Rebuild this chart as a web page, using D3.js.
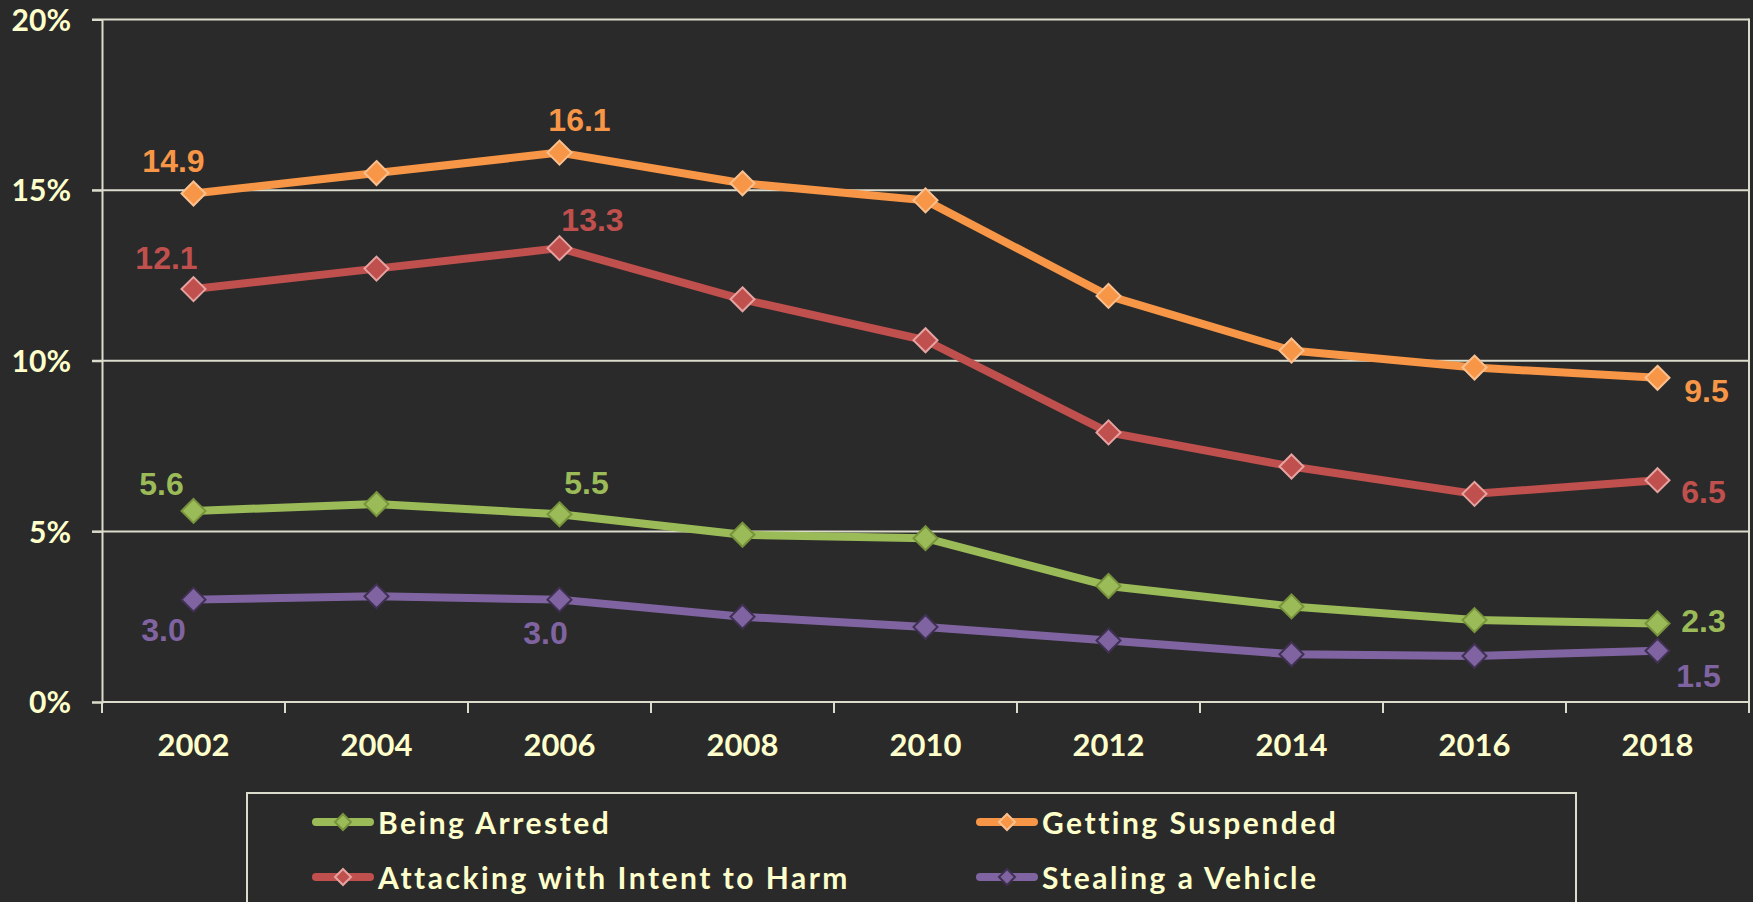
<!DOCTYPE html>
<html>
<head>
<meta charset="utf-8">
<script src="https://cdn.jsdelivr.net/npm/d3@7"></script>
<style>
  html, body { margin: 0; padding: 0; background: #2a2a2a; }
  svg { display: block; }
</style>
</head>
<body>
<svg id="chart" width="1753" height="902"></svg>
<script>
// ---------- data ----------
const years = ["2002", "2004", "2006", "2008", "2010", "2012", "2014", "2016", "2018"];
const beingArrested = [5.6, 5.8, 5.5, 4.9, 4.8, 3.4, 2.8, 2.4, 2.3];
const gettingSuspended = [14.9, 15.5, 16.1, 15.2, 14.7, 11.9, 10.3, 9.8, 9.5];
const attackingWithIntent = [12.1, 12.7, 13.3, 11.8, 10.6, 7.9, 6.9, 6.1, 6.5];
const stealingVehicle = [3.0, 3.1, 3.0, 2.5, 2.2, 1.8, 1.4, 1.35, 1.5];
const yTicks = [0, 5, 10, 15, 20];
const seriesNames = ["Being Arrested", "Getting Suspended", "Attacking with Intent to Harm", "Stealing a Vehicle"];
// indices of points that carry a value label
const labelledPoints = [0, 2, 8];

// ---------- styling / layout (not data) ----------
const styles = [
  { color: "#9BBB59", marker: "#77933C" },
  { color: "#F79646", marker: "#FAC090" },
  { color: "#C0504D", marker: "#E6A3A1" },
  { color: "#8064A2", marker: "#3F3151" }
];
// label offsets (dx, dy) per series for points 2002, 2006, 2018
const labelOffsets = [
  [[-32, -27], [27, -31], [46, -3]],
  [[-20, -33], [20, -33], [49, 13]],
  [[-27, -31], [33, -28], [46, 12]],
  [[-30, 30], [-14, 33], [41, 25]]
];

const seriesValues = [beingArrested, gettingSuspended, attackingWithIntent, stealingVehicle];

const svg = d3.select("#chart");
const plot = { left: 102, right: 1749, top: 19.5, bottom: 702 };
const gridColor = "#DCDCCC";
const textColor = "#FFFFCC";

const x = d3.scaleBand().domain(years).range([plot.left, plot.right]).padding(0);
const cx = d => x(d) + x.bandwidth() / 2;
const y = d3.scaleLinear().domain([0, 20]).range([plot.bottom, plot.top]);

// gridlines
svg.append("g").selectAll("line").data(yTicks.filter(t => t > 0)).join("line")
  .attr("x1", plot.left - 10).attr("x2", plot.right)
  .attr("y1", d => y(d)).attr("y2", d => y(d))
  .attr("stroke", gridColor).attr("stroke-width", 2);

// right border
svg.append("line")
  .attr("x1", plot.right).attr("x2", plot.right)
  .attr("y1", y(20) - 1).attr("y2", plot.bottom + 11)
  .attr("stroke", gridColor).attr("stroke-width", 2);

// y axis
const yAxis = svg.append("g").attr("transform", `translate(${plot.left},0)`)
  .call(d3.axisLeft(y).tickValues(yTicks).tickFormat(d => d + "%").tickSize(10).tickPadding(21));
yAxis.select(".domain").attr("stroke", gridColor).attr("stroke-width", 2);
yAxis.selectAll(".tick line").attr("stroke", gridColor).attr("stroke-width", 2);
yAxis.selectAll("text")
  .attr("fill", textColor)
  .style("font-family", "Lato, 'Open Sans', sans-serif")
  .style("font-weight", "bold")
  .style("font-size", "30px")
  .attr("dy", "0.36em");

// x axis (labels at band centres, ticks at band boundaries)
const xAxis = svg.append("g").attr("transform", `translate(0,${plot.bottom})`)
  .call(d3.axisBottom(x).tickSize(0).tickPadding(32));
xAxis.select(".domain").remove();
xAxis.selectAll("text")
  .attr("fill", textColor)
  .style("font-family", "Lato, 'Open Sans', sans-serif")
  .style("font-weight", "bold")
  .style("font-size", "31px");
svg.append("line")
  .attr("x1", plot.left).attr("x2", plot.right)
  .attr("y1", plot.bottom).attr("y2", plot.bottom)
  .attr("stroke", gridColor).attr("stroke-width", 2);
const boundaries = years.map(d => x(d)).concat([plot.right]);
svg.append("g").selectAll("line").data(boundaries).join("line")
  .attr("x1", d => d).attr("x2", d => d)
  .attr("y1", plot.bottom).attr("y2", plot.bottom + 11)
  .attr("stroke", gridColor).attr("stroke-width", 2);

// lines
const line = d3.line().x((d, i) => cx(years[i])).y(d => y(d));
const diamond = (r) => `M0,${-r}L${r},0L0,${r}L${-r},0Z`;

const drawOrder = [3, 0, 2, 1];
drawOrder.forEach(si => {
  const vals = seriesValues[si];
  const st = styles[si];
  const g = svg.append("g");
  g.append("path").datum(vals)
    .attr("d", line)
    .attr("fill", "none")
    .attr("stroke", st.color)
    .attr("stroke-width", 8)
    .attr("stroke-linejoin", "round");
  g.selectAll("path.mk").data(vals).join("path")
    .attr("class", "mk")
    .attr("transform", (d, i) => `translate(${cx(years[i])},${y(d)})`)
    .attr("d", diamond(12))
    .attr("fill", st.color)
    .attr("stroke", st.marker)
    .attr("stroke-width", 2);
});

// value labels
seriesValues.forEach((vals, si) => {
  const st = styles[si];
  svg.append("g").selectAll("text").data(labelledPoints).join("text")
    .attr("x", (idx, k) => cx(years[idx]) + labelOffsets[si][k][0])
    .attr("y", (idx, k) => y(vals[idx]) + labelOffsets[si][k][1])
    .attr("text-anchor", "middle")
    .attr("dominant-baseline", "central")
    .attr("fill", st.color)
    .style("font-family", "'Liberation Sans', Arial, sans-serif")
    .style("font-weight", "bold")
    .style("font-size", "32px")
    .text(idx => vals[idx].toFixed(1));
});

// legend
const legend = svg.append("g");
legend.append("rect")
  .attr("x", 247).attr("y", 793)
  .attr("width", 1576 - 247).attr("height", 140)
  .attr("fill", "#2a2a2a")
  .attr("stroke", gridColor).attr("stroke-width", 2);
const legendPos = [
  { x: 312, y: 822 }, { x: 976, y: 822 },
  { x: 312, y: 877 }, { x: 976, y: 877 }
];
seriesNames.forEach((name, si) => {
  const p = legendPos[si];
  const st = styles[si];
  const g = legend.append("g").attr("transform", `translate(${p.x},${p.y})`);
  g.append("line").attr("x1", 4).attr("x2", 58).attr("y1", 0).attr("y2", 0)
    .attr("stroke", st.color).attr("stroke-width", 8).attr("stroke-linecap", "round");
  g.append("path").attr("transform", "translate(31,0)").attr("d", diamond(8))
    .attr("fill", st.color).attr("stroke", st.marker).attr("stroke-width", 2);
  g.append("text").attr("x", 66).attr("y", 0)
    .attr("dominant-baseline", "central")
    .attr("fill", textColor)
    .style("font-family", "Lato, 'Open Sans', sans-serif")
    .style("font-weight", "bold")
    .style("font-size", "30px")
    .style("letter-spacing", "2.5px")
    .text(name);
});
</script>
</body>
</html>
